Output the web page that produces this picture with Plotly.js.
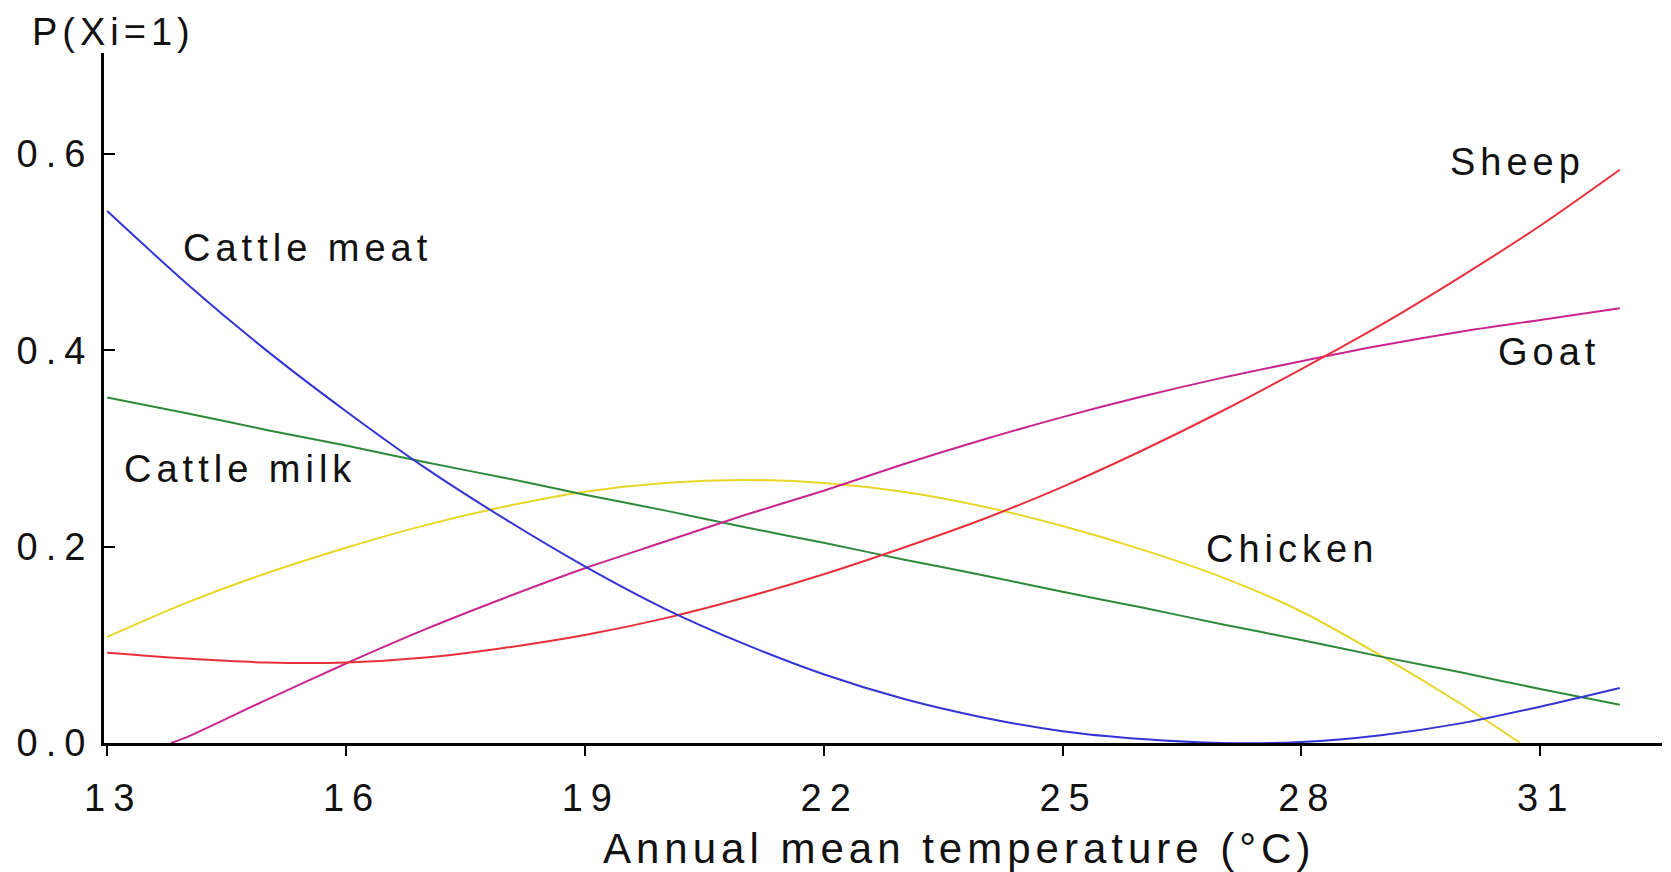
<!DOCTYPE html>
<html>
<head>
<meta charset="utf-8">
<script src="https://cdn.plot.ly/plotly-3.0.1.min.js"></script>
<style>
  html, body { margin: 0; padding: 0; background: #ffffff; }
  #chart { width: 1671px; height: 872px; }
  svg text { letter-spacing: 5px; }
  .xtick text, text.xtick, .ytick text, text.ytick { letter-spacing: 8px; }
</style>
</head>
<body>
<div id="chart"></div>
<script>
// Annual mean temperature (°C)
const temp = [13, 14, 15, 16, 17, 18, 19, 20, 21, 22, 23, 24, 25, 26, 27, 28, 29, 30, 31, 32];
const goatTemp = [13.8, 14, 15, 16, 17, 18, 19, 20, 21, 22, 23, 24, 25, 26, 27, 28, 29, 30, 31, 32];
const chickenTemp = [13, 14, 15, 16, 17, 18, 19, 20, 21, 22, 23, 24, 25, 26, 27, 28, 29, 30, 30.75];

// P(Xi=1)
const cattleMeat = [0.542, 0.468, 0.400, 0.338, 0.280, 0.228, 0.180, 0.137, 0.101, 0.070, 0.045, 0.026, 0.012, 0.004, 0.000, 0.001, 0.008, 0.020, 0.037, 0.056];
const cattleMilk = [0.352, 0.336, 0.319, 0.303, 0.286, 0.270, 0.253, 0.237, 0.220, 0.204, 0.187, 0.171, 0.154, 0.138, 0.121, 0.105, 0.088, 0.072, 0.055, 0.039];
const sheep = [0.092, 0.086, 0.082, 0.082, 0.087, 0.097, 0.110, 0.127, 0.148, 0.172, 0.199, 0.228, 0.261, 0.298, 0.338, 0.381, 0.426, 0.475, 0.527, 0.584];
const goat = [0.000, 0.006, 0.044, 0.081, 0.116, 0.148, 0.178, 0.205, 0.232, 0.257, 0.284, 0.309, 0.332, 0.353, 0.372, 0.389, 0.405, 0.419, 0.431, 0.443];
const chicken = [0.108, 0.143, 0.173, 0.199, 0.222, 0.241, 0.256, 0.265, 0.268, 0.265, 0.256, 0.241, 0.221, 0.197, 0.169, 0.134, 0.089, 0.040, 0.000];

const xTickVals = [13, 16, 19, 22, 25, 28, 31];
const yTickVals = [0, 0.2, 0.4, 0.6];

const seriesNames = ["Cattle meat", "Cattle milk", "Sheep", "Goat", "Chicken"];

const FONT = "Liberation Sans, Arial, sans-serif";

function line(x, y, name, color) {
  return {
    type: "scatter", mode: "lines", x: x, y: y, name: name,
    line: { color: color, width: 2, shape: "spline", smoothing: 0.8 },
    hoverinfo: "x+y+name"
  };
}

const traces = [
  line(chickenTemp, chicken, seriesNames[4], "#e8d628"),
  line(temp, cattleMilk, seriesNames[1], "#2e8a3a"),
  line(goatTemp, goat, seriesNames[3], "#c8268e"),
  line(temp, sheep, seriesNames[2], "#e8303c"),
  line(temp, cattleMeat, seriesNames[0], "#3434d4")
];

const labelFont = { family: FONT, size: 38, color: "#111111" };

const layout = {
  width: 1671, height: 872,
  margin: { l: 104, r: 9, t: 53, b: 129 },
  paper_bgcolor: "#ffffff", plot_bgcolor: "#ffffff",
  showlegend: false,
  font: { family: FONT, size: 38, color: "#111111" },
  xaxis: {
    range: [12.96, 32.53],
    tickvals: xTickVals,
    ticks: "outside", ticklen: 10, tickwidth: 2, tickcolor: "#000000",
    ticklabelstandoff: 9, ticklabelshift: 6,
    showline: true, linecolor: "#000000", linewidth: 3,
    showgrid: false, zeroline: false,
    tickfont: { family: FONT, size: 38, color: "#111111" }
  },
  yaxis: {
    range: [0, 0.703],
    tickvals: yTickVals, tickformat: ".1f",
    ticks: "inside", ticklen: 11, tickwidth: 2, tickcolor: "#000000",
    showline: true, linecolor: "#000000", linewidth: 3,
    showgrid: false, zeroline: false,
    tickfont: { family: FONT, size: 38, color: "#111111" }
  },
  annotations: [
    { text: seriesNames[0], x: 15.52, y: 0.504, xref: "x", yref: "y", showarrow: false, font: labelFont, xanchor: "center", yanchor: "middle" },
    { text: seriesNames[2], x: 30.72, y: 0.592, xref: "x", yref: "y", showarrow: false, font: labelFont, xanchor: "center", yanchor: "middle" },
    { text: seriesNames[3], x: 31.11, y: 0.398, xref: "x", yref: "y", showarrow: false, font: labelFont, xanchor: "center", yanchor: "middle" },
    { text: seriesNames[1], x: 14.67, y: 0.279, xref: "x", yref: "y", showarrow: false, font: labelFont, xanchor: "center", yanchor: "middle" },
    { text: seriesNames[4], x: 27.88, y: 0.198, xref: "x", yref: "y", showarrow: false, font: labelFont, xanchor: "center", yanchor: "middle" },
    { text: "P(Xi=1)", x: 0.0064, y: 1.0304, xref: "paper", yref: "paper", showarrow: false, font: labelFont, xanchor: "center", yanchor: "middle" },
    { text: "Annual mean temperature (°C)", x: 0.5488, y: -0.1536, xref: "paper", yref: "paper", showarrow: false, font: { family: FONT, size: 42, color: "#111111" }, xanchor: "center", yanchor: "middle" }
  ]
};

Plotly.newPlot("chart", traces, layout, { displayModeBar: false, staticPlot: true });
</script>
</body>
</html>
